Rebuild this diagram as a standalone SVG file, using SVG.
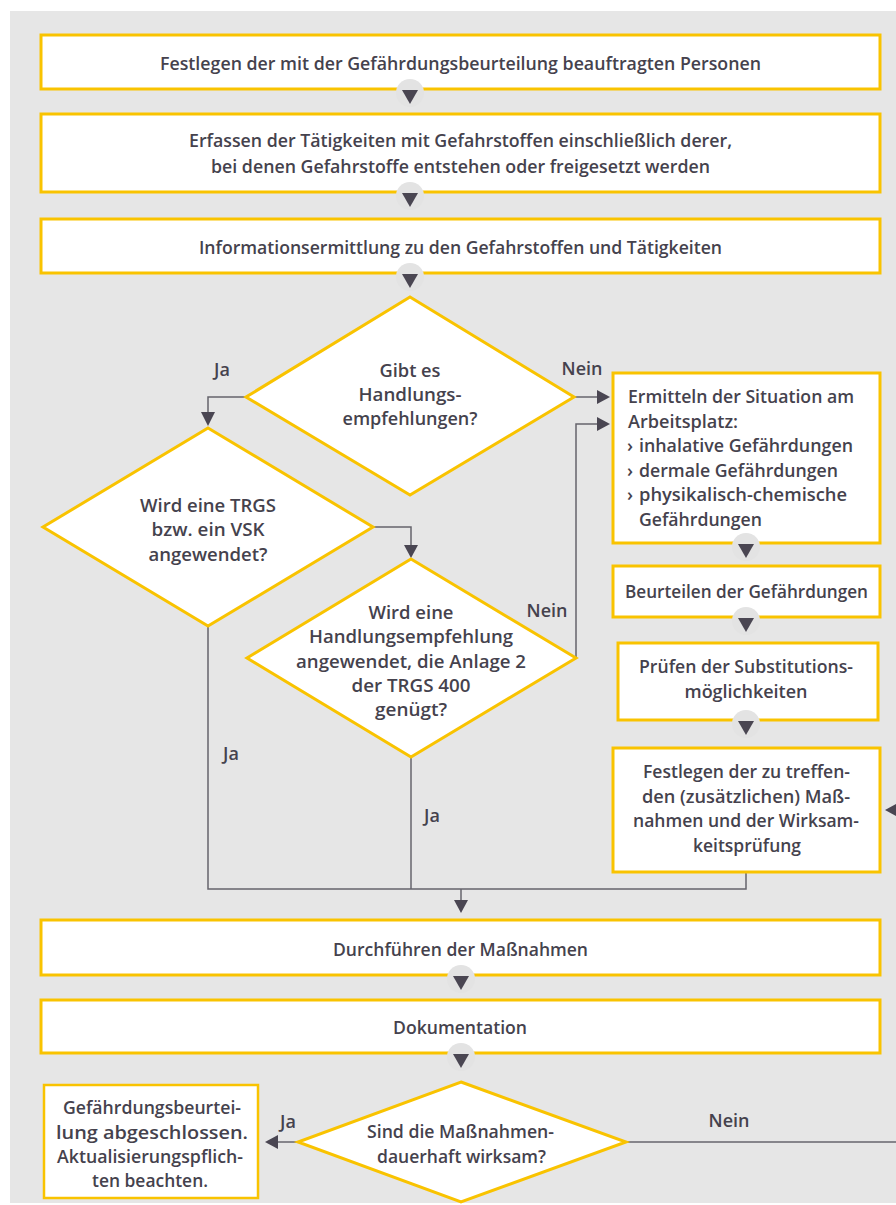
<svg xmlns="http://www.w3.org/2000/svg" width="896" height="1205" viewBox="0 0 896 1205">
<style>
.bg{fill:#e6e6e6}
.box{fill:#ffffff;stroke:#f9c300;stroke-width:3}
.box2{fill:#ffffff;stroke:#f9c300;stroke-width:2.5}
.t{font-family:"Open Sans","Liberation Sans",sans-serif;font-size:18px;font-weight:600;fill:#45424d}
.c{text-anchor:middle}
.ln{fill:none;stroke:#66646c;stroke-width:1.5}
.ah{fill:#4a4652}
.cir{fill:#e3e3e3}
</style>
<defs>
<g id="conn">
<circle class="cir" cx="0" cy="4" r="14"/>
<polygon class="ah" points="-8,1 8,1 0,15"/>
</g>
</defs>
<rect width="896" height="1205" fill="#ffffff"/>
<rect class="bg" x="10" y="11" width="886" height="1192"/>

<g id="connectors">
<path class="ln" d="M246,397 H208 V413"/>
<polygon class="ah" points="201,412 215,412 208,426"/>
<path class="ln" d="M373,527 H411 V545"/>
<polygon class="ah" points="404,545 418,545 411,558"/>
<path class="ln" d="M574,397 H598"/>
<polygon class="ah" points="597,390 597,404 610,397"/>
<path class="ln" d="M576,658 V424 H598"/>
<polygon class="ah" points="597,417 597,431 610,424"/>
<path class="ln" d="M208,626 V889 H746 V872"/>
<path class="ln" d="M411,757 V889"/>
<path class="ln" d="M461,889 V901"/>
<polygon class="ah" points="454,900 468,900 461,913"/>
<polygon class="ah" points="885,810 898,803 898,817"/>
<path class="ln" d="M298,1142 H278"/>
<polygon class="ah" points="278,1135 278,1149 265,1142"/>
<path class="ln" d="M626,1142 H896"/>
</g>

<g id="n1">
<rect class="box" x="41" y="35" width="839" height="54"/>
<text class="t c" x="460.5" y="70" textLength="601" lengthAdjust="spacingAndGlyphs">Festlegen der mit der Gefährdungsbeurteilung beauftragten Personen</text>
</g>
<g id="n2">
<rect class="box" x="41" y="114" width="839" height="78"/>
<text class="t c" x="460.5" y="147" textLength="543" lengthAdjust="spacingAndGlyphs">Erfassen der Tätigkeiten mit Gefahrstoffen einschließlich derer,</text>
<text class="t c" x="460.5" y="173" textLength="499" lengthAdjust="spacingAndGlyphs">bei denen Gefahrstoffe entstehen oder freigesetzt werden</text>
</g>
<g id="n3">
<rect class="box" x="41" y="219" width="839" height="54"/>
<text class="t c" x="460.5" y="254" textLength="523" lengthAdjust="spacingAndGlyphs">Informationsermittlung zu den Gefahrstoffen und Tätigkeiten</text>
</g>

<g id="d1">
<polygon class="box" points="410,297 574,397 410,495 246,397"/>
<text class="t c" x="410" y="377" textLength="61" lengthAdjust="spacingAndGlyphs">Gibt es</text>
<text class="t c" x="410" y="401" textLength="103" lengthAdjust="spacingAndGlyphs">Handlungs-</text>
<text class="t c" x="410" y="425" textLength="135" lengthAdjust="spacingAndGlyphs">empfehlungen?</text>
</g>
<g id="d2">
<polygon class="box" points="208,428 373,527 208,626 43,527"/>
<text class="t c" x="208" y="512" textLength="136" lengthAdjust="spacingAndGlyphs">Wird eine TRGS</text>
<text class="t c" x="208" y="536" textLength="113" lengthAdjust="spacingAndGlyphs">bzw. ein VSK</text>
<text class="t c" x="208" y="561" textLength="119" lengthAdjust="spacingAndGlyphs">angewendet?</text>
</g>
<g id="d3">
<polygon class="box" points="411,559 576,658 411,757 247,658"/>
<text class="t c" x="411" y="619" textLength="85" lengthAdjust="spacingAndGlyphs">Wird eine</text>
<text class="t c" x="411" y="643" textLength="204" lengthAdjust="spacingAndGlyphs">Handlungsempfehlung</text>
<text class="t c" x="411" y="668" textLength="230" lengthAdjust="spacingAndGlyphs">angewendet, die Anlage 2</text>
<text class="t c" x="411" y="692" textLength="119" lengthAdjust="spacingAndGlyphs">der TRGS 400</text>
<text class="t c" x="411" y="716" textLength="72" lengthAdjust="spacingAndGlyphs">genügt?</text>
</g>

<g id="n4">
<rect class="box" x="613" y="373" width="267" height="170"/>
<text class="t" x="628" y="403" textLength="226" lengthAdjust="spacingAndGlyphs">Ermitteln der Situation am</text>
<text class="t" x="628" y="427.5" textLength="110" lengthAdjust="spacingAndGlyphs">Arbeitsplatz:</text>
<text class="t" x="627" y="452">›</text>
<text class="t" x="639" y="452" textLength="214" lengthAdjust="spacingAndGlyphs">inhalative Gefährdungen</text>
<text class="t" x="627" y="476.5">›</text>
<text class="t" x="639" y="476.5" textLength="199" lengthAdjust="spacingAndGlyphs">dermale Gefährdungen</text>
<text class="t" x="627" y="501">›</text>
<text class="t" x="639" y="501" textLength="208" lengthAdjust="spacingAndGlyphs">physikalisch-chemische</text>
<text class="t" x="639" y="525.5" textLength="123" lengthAdjust="spacingAndGlyphs">Gefährdungen</text>
</g>
<g id="n5">
<rect class="box" x="613" y="566" width="267" height="51"/>
<text class="t c" x="746.5" y="598" textLength="243" lengthAdjust="spacingAndGlyphs">Beurteilen der Gefährdungen</text>
</g>
<g id="n6">
<rect class="box" x="618" y="643" width="260" height="77"/>
<text class="t c" x="746" y="673" textLength="214" lengthAdjust="spacingAndGlyphs">Prüfen der Substitutions-</text>
<text class="t c" x="746" y="698" textLength="123" lengthAdjust="spacingAndGlyphs">möglichkeiten</text>
</g>
<g id="n7">
<rect class="box" x="613" y="748" width="267" height="124"/>
<text class="t c" x="746.5" y="778" textLength="207" lengthAdjust="spacingAndGlyphs">Festlegen der zu treffen-</text>
<text class="t c" x="746" y="802.5" textLength="208" lengthAdjust="spacingAndGlyphs">den (zusätzlichen) Maß-</text>
<text class="t c" x="746" y="827" textLength="226" lengthAdjust="spacingAndGlyphs">nahmen und der Wirksam-</text>
<text class="t c" x="747" y="851.5" textLength="108" lengthAdjust="spacingAndGlyphs">keitsprüfung</text>
</g>

<g id="n8">
<rect class="box" x="41" y="920" width="839" height="55"/>
<text class="t c" x="460.5" y="956" textLength="255" lengthAdjust="spacingAndGlyphs">Durchführen der Maßnahmen</text>
</g>
<g id="n9">
<rect class="box" x="41" y="1000" width="839" height="53"/>
<text class="t c" x="460" y="1034" textLength="134" lengthAdjust="spacingAndGlyphs">Dokumentation</text>
</g>
<g id="d4">
<polygon class="box" points="461,1082 626,1142 461,1202 298,1142"/>
<text class="t c" x="460.5" y="1138" textLength="187" lengthAdjust="spacingAndGlyphs">Sind die Maßnahmen-</text>
<text class="t c" x="461.5" y="1163" textLength="169" lengthAdjust="spacingAndGlyphs">dauerhaft wirksam?</text>
</g>
<g id="n10">
<rect class="box2" x="44" y="1085" width="214" height="113"/>
<text class="t c" x="152" y="1114" textLength="178" lengthAdjust="spacingAndGlyphs">Gefährdungsbeurtei-</text>
<text class="t c" x="152" y="1138.5" textLength="192" lengthAdjust="spacingAndGlyphs">lung abgeschlossen.</text>
<text class="t c" x="150" y="1163" textLength="186" lengthAdjust="spacingAndGlyphs">Aktualisierungspflich-</text>
<text class="t c" x="150" y="1187" textLength="116" lengthAdjust="spacingAndGlyphs">ten beachten.</text>
</g>

<g id="arrows">
<use href="#conn" x="410" y="89"/>
<use href="#conn" x="410" y="192"/>
<use href="#conn" x="410" y="273"/>
<use href="#conn" x="746" y="543"/>
<use href="#conn" x="746" y="617"/>
<use href="#conn" x="746" y="720"/>
<use href="#conn" x="461" y="975"/>
<use href="#conn" x="461" y="1053"/>
</g>

<g id="labels">
<text class="t c" x="222" y="376">Ja</text>
<text class="t c" x="582" y="375">Nein</text>
<text class="t c" x="547" y="617">Nein</text>
<text class="t c" x="231" y="760">Ja</text>
<text class="t c" x="432" y="822">Ja</text>
<text class="t c" x="288" y="1128">Ja</text>
<text class="t c" x="729" y="1127">Nein</text>
</g>
</svg>
